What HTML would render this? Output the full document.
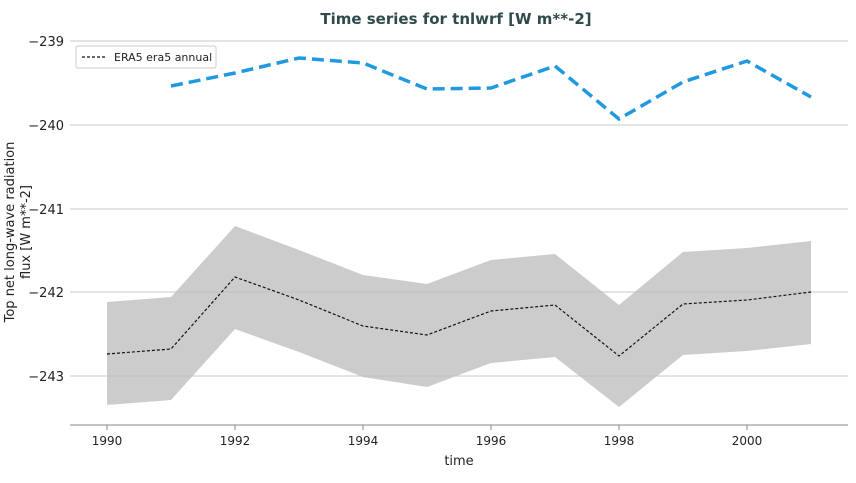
<!DOCTYPE html>
<html><head><meta charset="utf-8"><style>
body{margin:0;background:#fff;}
svg{font-family:"DejaVu Sans","Liberation Sans",sans-serif;}
</style></head><body>
<svg width="856" height="478" viewBox="0 0 856 478" xmlns="http://www.w3.org/2000/svg">
<rect width="856" height="478" fill="#fff"/>
<text x="456" y="24" text-anchor="middle" font-size="15" font-weight="bold" fill="#2e4a4a">Time series for tnlwrf [W m**-2]</text>
<g stroke="#c8c8c8" stroke-width="1">
<line x1="70" y1="41" x2="848" y2="41"/>
<line x1="70" y1="125" x2="848" y2="125"/>
<line x1="70" y1="209" x2="848" y2="209"/>
<line x1="70" y1="292" x2="848" y2="292"/>
<line x1="70" y1="376" x2="848" y2="376"/>
</g>
<line x1="70" y1="425" x2="848" y2="425" stroke="#888" stroke-width="1"/>
<g font-size="13" fill="#222" text-anchor="end">
<text x="64" y="46">−239</text><text x="64" y="130">−240</text><text x="64" y="214">−241</text><text x="64" y="297">−242</text><text x="64" y="381">−243</text>
</g>
<g font-size="12" fill="#222" text-anchor="middle">
<text x="107" y="445">1990</text><text x="235" y="445">1992</text><text x="363" y="445">1994</text><text x="491" y="445">1996</text><text x="619" y="445">1998</text><text x="747" y="445">2000</text>
<text x="459" y="465" font-size="13">time</text>
</g>
<g stroke="#888" stroke-width="1"><line x1="107" y1="425" x2="107" y2="430"/><line x1="235" y1="425" x2="235" y2="430"/><line x1="363" y1="425" x2="363" y2="430"/><line x1="491" y1="425" x2="491" y2="430"/><line x1="619" y1="425" x2="619" y2="430"/><line x1="747" y1="425" x2="747" y2="430"/></g>
<text transform="translate(14,232) rotate(-90)" text-anchor="middle" font-size="13" fill="#222">Top net long-wave radiation</text>
<text transform="translate(30,232) rotate(-90)" text-anchor="middle" font-size="13" fill="#222">flux [W m**-2]</text>
<polygon fill="#bfbfbf" fill-opacity="0.8" points="107,302 171,297 235,226 299,250 363,275 427,284 491,260 555,254 619,305 683,252 747,248 811,241 811,344 747,351 683,355 619,407 555,357 491,363 427,387 363,377 299,352 235,329 171,400 107,405"/>
<polyline fill="none" stroke="#111" stroke-width="1.2" stroke-dasharray="3,2" points="107,354 171,349 235,277 299,300 363,326 427,335 491,311 555,305 619,356 683,304 747,300 811,292"/>
<polyline fill="none" stroke="#1f9ae0" stroke-width="3.5" stroke-dasharray="12,6" points="171,86 235,73 299,58 363,63 427,89 491,88 555,66 619,119 683,82 747,61 811,97"/>
<rect x="76" y="46" width="140" height="22" fill="#fff" stroke="#ccc" rx="2"/>
<line x1="82" y1="57" x2="106" y2="57" stroke="#111" stroke-width="1.2" stroke-dasharray="3,2"/>
<text x="114" y="61" font-size="11" fill="#222">ERA5 era5 annual</text>
</svg>
</body></html>
